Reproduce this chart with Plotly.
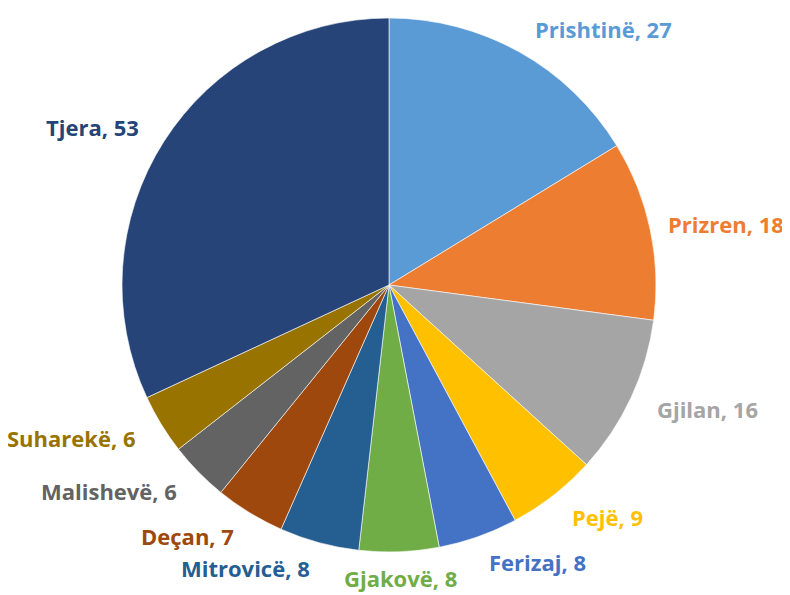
import numpy as np
import plotly.graph_objects as go

labels = ["Prishtinë", "Prizren", "Gjilan", "Pejë", "Ferizaj", "Gjakovë",
          "Mitrovicë", "Deçan", "Malishevë", "Suharekë", "Tjera"]
values = [27, 18, 16, 9, 8, 8, 8, 7, 6, 6, 53]
colors = ["#5B9BD5", "#ED7D31", "#A5A5A5", "#FFC000", "#4472C4", "#70AD47",
          "#255E91", "#9E480E", "#636363", "#997300", "#264478"]

# figure is 8px smaller than the window on each axis (page body margin is 8px)
W, H = 782, 587
cx, cy, R = 381, 277, 267  # pie centre and radius in figure pixels
FS = 22
right_limit = W - 4  # keep labels inside the visible window

fig = go.Figure(go.Pie(
    labels=labels, values=values, sort=False, direction="clockwise", rotation=0,
    marker=dict(colors=colors, line=dict(color="white", width=0.6)),
    textinfo="none", hoverinfo="label+value", showlegend=False,
    domain=dict(x=[(cx - R) / W, (cx + R) / W], y=[1 - (cy + R) / H, 1 - (cy - R) / H]),
))

vals = np.array(values, dtype=float)
cum = np.cumsum(vals)
mid = (cum - vals / 2) / vals.sum() * 2 * np.pi  # clockwise from top
k = 1.1
annotations = []
for lab, v, a, col in zip(labels, values, mid, colors):
    txt = f"{lab}, {v}"
    px = cx + k * R * np.sin(a)
    py = cy - k * R * np.cos(a)
    s = np.sin(a)
    xanchor = "left" if s > 0.2 else ("right" if s < -0.2 else "center")
    est_w = len(txt) * 0.53 * FS
    if xanchor == "left" and px + est_w > right_limit:
        xanchor, px = "right", right_limit
    annotations.append(dict(
        x=px / W, y=1 - py / H, xref="paper", yref="paper",
        text=f"<b>{txt}</b>", showarrow=False,
        xanchor=xanchor, yanchor="middle",
        font=dict(family="Open Sans", size=FS, color=col),
    ))

fig.update_layout(
    width=W, height=H, margin=dict(l=0, r=0, t=0, b=0),
    paper_bgcolor="white", plot_bgcolor="white",
    annotations=annotations,
)
fig.write_html("out.html")
